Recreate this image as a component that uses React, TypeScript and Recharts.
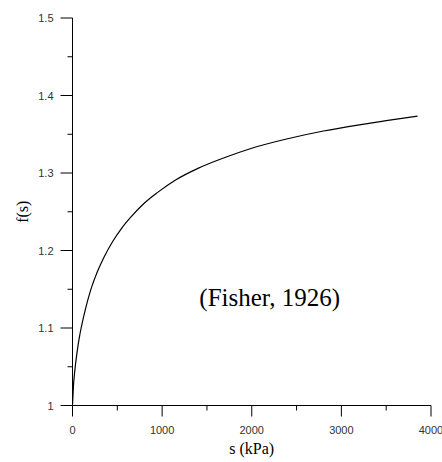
import React from 'react';
import { LineChart, Line, XAxis, YAxis, ReferenceDot, Label } from 'recharts';

const suction = [0, 10, 25, 50, 75, 100, 150, 200, 275, 350, 450, 550, 650, 800, 950, 1150, 1400, 1700, 2000, 2400, 2800, 3200, 3500, 3850];
const fValues = [1.0, 1.024, 1.044, 1.068, 1.087, 1.102, 1.127, 1.148, 1.172, 1.191, 1.212, 1.229, 1.243, 1.261, 1.275, 1.291, 1.306, 1.32, 1.332, 1.3442, 1.3542, 1.3622, 1.3675, 1.3734];

const xMajorTicks = [0, 1000, 2000, 3000, 4000];
const xMinorTicks = [500, 1500, 2500, 3500];
const xTickLabels = ['0', '1000', '2000', '3000', '4000'];
const yMajorTicks = [1, 1.1, 1.2, 1.3, 1.4, 1.5];
const yMinorTicks = [1.05, 1.15, 1.25, 1.35, 1.45];
const yTickLabels = ['1', '1.1', '1.2', '1.3', '1.4', '1.5'];

const xAxisTitle = 's (kPa)';
const yAxisTitle = 'f(s)';
const annotation = '(Fisher, 1926)';

const data = suction.map((s, i) => ({ s, f: fValues[i] }));
const xTicks = [...xMajorTicks, ...xMinorTicks].sort((a, b) => a - b);
const yTicks = [...yMajorTicks, ...yMinorTicks].sort((a, b) => a - b);

const sansFont = '"Liberation Sans", Arial, sans-serif';
const serifFont = '"Liberation Serif", "Times New Roman", serif';

const findIndex = (arr: number[], v: number) => arr.findIndex((t) => Math.abs(t - v) < 1e-6);

const XTick = (props: any) => {
  const { x, y, payload } = props;
  const idx = findIndex(xMajorTicks, payload.value);
  const major = idx >= 0;
  return (
    <g>
      <line x1={x} x2={x} y1={y} y2={y + (major ? 11 : 5)} stroke="#000" strokeWidth={1} />
      {major && (
        <text x={x} y={y + 24} textAnchor="middle" dominantBaseline="central" fontFamily={sansFont} fontSize={11} fill="#333">
          {xTickLabels[idx]}
        </text>
      )}
    </g>
  );
};

const YTick = (props: any) => {
  const { x, y, payload } = props;
  const idx = findIndex(yMajorTicks, payload.value);
  const major = idx >= 0;
  return (
    <g>
      <line x1={x - (major ? 12 : 5)} x2={x} y1={y} y2={y} stroke="#000" strokeWidth={1} />
      {major && (
        <text x={x - 19} y={y} textAnchor="end" dominantBaseline="central" fontFamily={sansFont} fontSize={11} fill="#333">
          {yTickLabels[idx]}
        </text>
      )}
    </g>
  );
};

export default function App() {
  return (
    <div style={{ position: 'absolute', left: 0, top: 0, background: '#fff' }}>
      <LineChart width={442} height={462} data={data} margin={{ top: 18, right: 11, left: 0, bottom: 0 }}>
        <XAxis
          dataKey="s"
          type="number"
          domain={[0, 4000]}
          ticks={xTicks}
          interval={0}
          tickSize={0}
          tickMargin={0}
          tickLine={false}
          tick={(p: any) => <XTick {...p} />}
          height={56.5}
          axisLine={{ stroke: '#000', strokeWidth: 1 }}
          allowDataOverflow
        >
          <Label
            content={(p: any) => {
              const vb = p.viewBox;
              return (
                <text x={vb.x + vb.width / 2} y={vb.y + 43} textAnchor="middle" dominantBaseline="central" fontFamily={serifFont} fontSize={16} fill="#000">
                  {xAxisTitle}
                </text>
              );
            }}
          />
        </XAxis>
        <YAxis
          type="number"
          domain={[1, 1.5]}
          ticks={yTicks}
          interval={0}
          tickSize={0}
          tickMargin={0}
          tickLine={false}
          tick={(p: any) => <YTick {...p} />}
          width={72.5}
          axisLine={{ stroke: '#000', strokeWidth: 1 }}
          allowDataOverflow
        >
          <Label
            content={(p: any) => {
              const vb = p.viewBox;
              const cx = vb.x + 22;
              const cy = vb.y + vb.height / 2;
              return (
                <text x={cx} y={cy} transform={`rotate(-90 ${cx} ${cy})`} textAnchor="middle" dominantBaseline="central" fontFamily={serifFont} fontSize={16} fill="#000">
                  {yAxisTitle}
                </text>
              );
            }}
          />
        </YAxis>
        <Line type="monotone" dataKey="f" stroke="#000" strokeWidth={1.2} dot={false} isAnimationActive={false} />
        <ReferenceDot
          x={2200}
          y={1.14}
          r={0}
          fill="none"
          stroke="none"
          label={(p: any) => {
            const vb = p.viewBox;
            return (
              <text x={vb.x + (vb.width || 0) / 2} y={vb.y + (vb.height || 0) / 2} textAnchor="middle" dominantBaseline="central" fontFamily={serifFont} fontSize={25} fill="#000">
                {annotation}
              </text>
            );
          }}
        />
      </LineChart>
    </div>
  );
}
